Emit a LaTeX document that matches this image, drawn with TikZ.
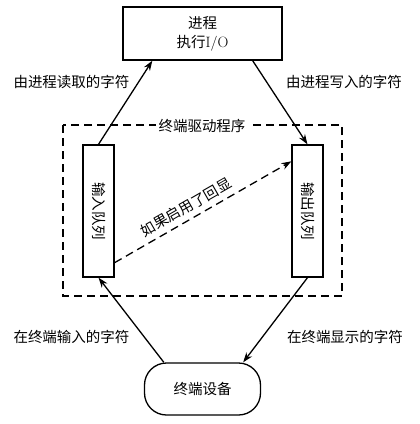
\documentclass[tikz,border=0pt]{standalone}
\usepackage{fontspec}
\newfontfamily\cjk{Noto Sans CJK SC}
\usetikzlibrary{arrows.meta}
\begin{document}
\begin{tikzpicture}[x=1pt,y=-1pt,
  every node/.style={font=\cjk\fontsize{14.5}{19}\selectfont},
  boxstyle/.style={draw,line width=1.3pt,inner sep=0pt},
  arr/.style={line width=1.3pt,-{Stealth[length=10pt,width=7pt]}},
  dashline/.style={line width=1.3pt,dash pattern=on 8pt off 5pt}]
\useasboundingbox[fill=white] (0,0) rectangle (420,424);
\node[boxstyle,minimum width=159pt,minimum height=53pt,align=center] (top) at (202.5,33.5)
  {进程\\执行{\rmfamily\fontsize{15}{19}\selectfont I/O}};
\node[boxstyle,minimum width=31pt,minimum height=132pt] (inq) at (98.5,211) {\rotatebox{-90}{输入队列}};
\node[boxstyle,minimum width=31pt,minimum height=132pt] (outq) at (307.5,211) {\rotatebox{-90}{输出队列}};
\node[boxstyle,rounded corners=22pt,minimum width=116pt,minimum height=52pt] (dev) at (202.5,389) {终端设备};
\coordinate (dnw) at (63,125);
\coordinate (dse) at (342,296);
\draw[dashline] (dnw) rectangle (dse);
\node[fill=white,inner sep=3pt] (drv) at (202,126) {终端驱动程序};
\node (l1) at (71.5,82) {由进程读取的字符};
\node (l2) at (344,82) {由进程写入的字符};
\node (l3) at (71.5,337) {在终端输入的字符};
\node (l4) at (345,337) {在终端显示的字符};
\draw[arr] (inq.north) -- ([xshift=30pt]top.south west);
\draw[arr] ([xshift=-30pt]top.south east) -- (outq.north);
\draw[arr] ([xshift=20pt]dev.north west) -- (inq.south);
\draw[arr] (outq.south) -- ([xshift=-18pt]dev.north east);
\draw[dashline,-{Stealth[length=10pt,width=7pt]}] ([yshift=15pt]inq.south east) -- node[sloped,above=2pt,pos=0.44] (echo) {如果启用了回显} ([yshift=-17pt]outq.north west);
\end{tikzpicture}
\end{document}
